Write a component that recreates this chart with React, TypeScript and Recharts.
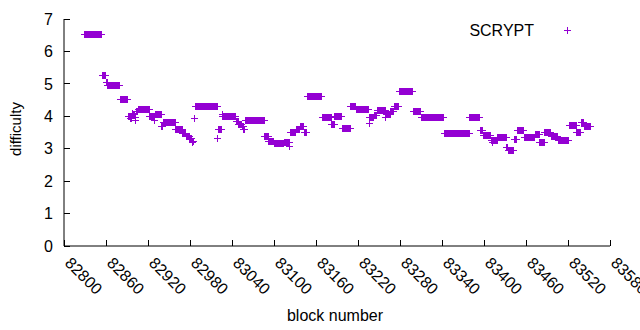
import React from 'react';
import { ScatterChart, Scatter, XAxis, YAxis, Legend } from 'recharts';

// difficulty stays flat over runs of blocks: [first block, last block, value]
const runStart = [
  82828, 82854, 82860, 82862, 82880, 82891, 82894, 82897, 82898, 82901, 82902, 82903, 82905, 82922, 82929,
  82930, 82939, 82941, 82959, 82969, 82974, 82979, 82983, 82984, 82985, 82987, 83019, 83020, 83025, 83026,
  83045, 83049, 83054, 83056, 83058, 83086, 83092, 83100, 83114, 83122, 83123, 83131, 83137, 83143, 83147,
  83168, 83182, 83186, 83197, 83209, 83217, 83235, 83236, 83243, 83247, 83259, 83260, 83266, 83271, 83278,
  83298, 83310, 83343, 83379, 83394, 83398, 83410, 83411, 83412, 83419, 83432, 83434, 83443, 83447, 83457,
  83473, 83479, 83486, 83495, 83505, 83521, 83532, 83538, 83543,
];
const runEnd = [
  82853, 82859, 82861, 82879, 82890, 82893, 82896, 82897, 82900, 82901, 82902, 82904, 82921, 82928, 82929,
  82938, 82940, 82958, 82968, 82973, 82978, 82982, 82983, 82984, 82986, 83018, 83019, 83024, 83025, 83044,
  83048, 83053, 83055, 83057, 83085, 83091, 83099, 83113, 83121, 83122, 83130, 83136, 83142, 83145, 83167,
  83181, 83185, 83196, 83208, 83216, 83234, 83235, 83242, 83246, 83258, 83259, 83265, 83270, 83277, 83297,
  83309, 83342, 83378, 83393, 83397, 83409, 83410, 83411, 83418, 83431, 83433, 83442, 83446, 83456, 83472,
  83478, 83485, 83494, 83504, 83520, 83531, 83537, 83542, 83552,
];
const runValue = [
  6.55, 5.27, 5.05, 4.97, 4.53, 4.02, 3.95, 4.1, 4.06, 3.88, 3.99, 4.15, 4.22, 4.0, 3.9,
  4.08, 3.7, 3.81, 3.62, 3.47, 3.4, 3.33, 3.2, 3.25, 3.96, 4.32, 3.32, 3.6, 4.07, 4.02,
  3.87, 3.77, 3.7, 3.6, 3.88, 3.4, 3.24, 3.17, 3.22, 3.09, 3.52, 3.62, 3.7, 3.52, 4.62,
  3.97, 3.77, 4.01, 3.63, 4.31, 4.22, 3.79, 3.99, 4.04, 4.2, 3.97, 4.07, 4.17, 4.33, 4.77,
  4.16, 3.97, 3.5, 3.97, 3.57, 3.42, 3.27, 3.2, 3.27, 3.35, 3.06, 2.97, 3.29, 3.57, 3.35,
  3.44, 3.2, 3.51, 3.39, 3.27, 3.73, 3.52, 3.83, 3.7,
];

const blockTicks = [82800, 82860, 82920, 82980, 83040, 83100, 83160, 83220, 83280, 83340, 83400, 83460, 83520, 83580];
const difficultyTicks = [0, 1, 2, 3, 4, 5, 6, 7];
const seriesName = 'SCRYPT';

const points: { block: number; difficulty: number }[] = [];
runStart.forEach((s, i) => {
  for (let b = s; b <= runEnd[i]; b++) points.push({ block: b, difficulty: runValue[i] });
});

const COLOR = '#9400d3';
const FONT = '"Liberation Sans", Arial, sans-serif';
const FS = 16;

const Cross = (props: any) => {
  const { cx, cy } = props;
  if (cx == null || cy == null) return null;
  const x = Math.round(cx) + 0.5;
  const y = Math.round(cy) + 0.5;
  return (
    <path
      d={`M${x - 3.5},${y}H${x + 3.5}M${x},${y - 3.5}V${y + 3.5}`}
      stroke={COLOR}
      strokeWidth={1}
      fill="none"
      shapeRendering="crispEdges"
    />
  );
};

const BottomTick = ({ x, y, payload }: any) => (
  <g>
    <line x1={x} y1={y} x2={x} y2={y - 6} stroke="#000" shapeRendering="crispEdges" />
    <text
      x={x}
      y={y + 18}
      transform={`rotate(45 ${x} ${y + 18})`}
      fontFamily={FONT}
      fontSize={FS}
      fill="#000"
    >
      {payload.value}
    </text>
  </g>
);

const TopTick = ({ x, y }: any) => (
  <line x1={x} y1={y} x2={x} y2={y + 6} stroke="#000" shapeRendering="crispEdges" />
);

const LeftTick = ({ x, y, payload }: any) => (
  <g>
    <line x1={x} y1={y} x2={x + 6} y2={y} stroke="#000" shapeRendering="crispEdges" />
    <text x={x - 11} y={y} dy="0.36em" textAnchor="end" fontFamily={FONT} fontSize={FS} fill="#000">
      {payload.value}
    </text>
  </g>
);

const RightTick = ({ x, y }: any) => (
  <line x1={x} y1={y} x2={x - 6} y2={y} stroke="#000" shapeRendering="crispEdges" />
);

const LegendBox = () => (
  <div style={{ position: 'relative', width: 160, height: 20, fontFamily: FONT, fontSize: FS, lineHeight: '18px' }}>
    <span style={{ position: 'absolute', right: 81, top: 0 }}>{seriesName}</span>
    <svg style={{ position: 'absolute', left: 107, top: 2 }} width={12} height={12}>
      <path d="M2,6.5H9M5.5,3V10" stroke={COLOR} strokeWidth={1} fill="none" shapeRendering="crispEdges" />
    </svg>
  </div>
);

export default function App() {
  return (
    <div style={{ position: 'absolute', left: 0, top: 0, background: '#fff' }}>
      <ScatterChart width={640} height={330} margin={{ top: 19, right: 30, bottom: 0, left: 0 }}>
        <XAxis
          dataKey="block"
          type="number"
          domain={[82800, 83580]}
          ticks={blockTicks}
          interval={0}
          height={84}
          tickSize={0}
          tickMargin={0}
          tickLine={false}
          axisLine={{ stroke: '#000' }}
          tick={<BottomTick />}
          label={() => (
            <text x={335} y={321} textAnchor="middle" fontFamily={FONT} fontSize={FS} fill="#000">
              block number
            </text>
          )}
        />
        <XAxis
          xAxisId="top"
          orientation="top"
          dataKey="block"
          type="number"
          domain={[82800, 83580]}
          ticks={blockTicks}
          interval={0}
          height={0}
          tickSize={0}
          tickMargin={0}
          tickLine={false}
          axisLine={{ stroke: '#000' }}
          tick={<TopTick />}
        />
        <YAxis
          dataKey="difficulty"
          type="number"
          domain={[0, 7]}
          ticks={difficultyTicks}
          interval={0}
          width={64}
          tickSize={0}
          tickMargin={0}
          tickLine={false}
          axisLine={{ stroke: '#000' }}
          tick={<LeftTick />}
          label={() => (
            <text x={21} y={129} transform="rotate(-90 21 129)" textAnchor="middle" fontFamily={FONT} fontSize={15} fill="#000">
              difficulty
            </text>
          )}
        />
        <YAxis
          yAxisId="right"
          orientation="right"
          dataKey="difficulty"
          type="number"
          domain={[0, 7]}
          ticks={difficultyTicks}
          interval={0}
          width={0}
          tickSize={0}
          tickMargin={0}
          tickLine={false}
          axisLine={{ stroke: '#000' }}
          tick={<RightTick />}
        />
        <Legend
          layout="horizontal"
          verticalAlign="middle"
          align="center"
          content={() => <LegendBox />}
          wrapperStyle={{ top: 22, left: 455, width: 160, height: 20 }}
        />
        <Scatter
          name={seriesName}
          data={points}
          dataKey="difficulty"
          shape={<Cross />}
          isAnimationActive={false}
        />
      </ScatterChart>
    </div>
  );
}
